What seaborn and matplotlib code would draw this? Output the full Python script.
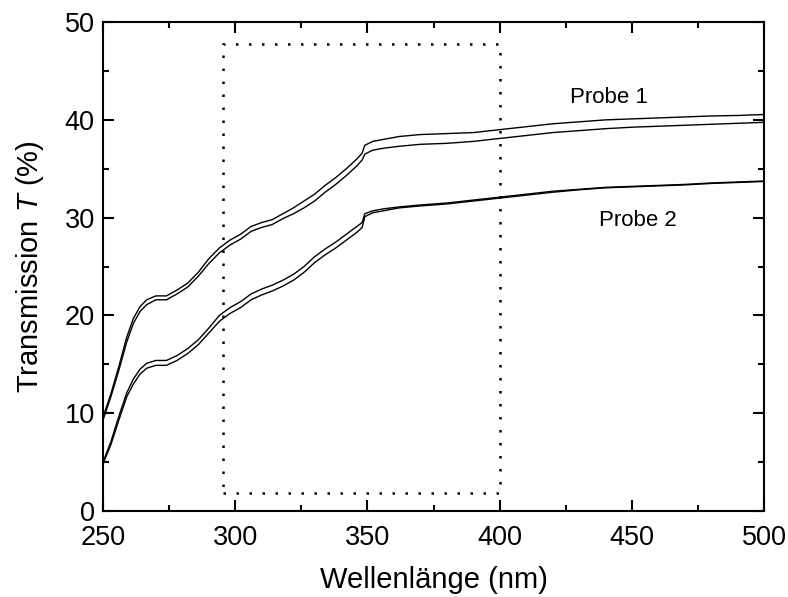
import numpy as np
import pandas as pd
import matplotlib
matplotlib.use("Agg")
import matplotlib.pyplot as plt
import seaborn as sns
from matplotlib.patches import Rectangle

# ---------------- data ----------------
wavelength = [250, 253, 256, 259, 261.5, 264, 266.5, 270, 274, 278, 282, 286, 290, 294,
              298, 302, 306, 310, 314, 318, 322, 326, 330, 334, 338, 342, 346, 348, 349,
              352, 356, 362, 370, 380, 390, 400, 410, 420, 430, 440, 450, 460, 470, 480,
              490, 500]

probe1_a = [9.6, 12.0, 14.8, 17.8, 19.7, 20.9, 21.6, 22.0, 22.0, 22.6, 23.3, 24.4, 25.8, 26.9,
            27.7, 28.3, 29.1, 29.5, 29.8, 30.4, 31.0, 31.7, 32.4, 33.3, 34.1, 35.0, 36.0, 36.6, 37.4,
            37.8, 38.0, 38.3, 38.5, 38.6, 38.7, 39.0, 39.3, 39.6, 39.8, 40.0, 40.1, 40.2, 40.3, 40.4,
            40.45, 40.55]
probe1_b = [9.3, 11.7, 14.4, 17.3, 19.2, 20.4, 21.1, 21.6, 21.6, 22.2, 22.9, 24.0, 25.3, 26.4,
            27.2, 27.8, 28.6, 29.0, 29.3, 29.9, 30.4, 31.0, 31.7, 32.6, 33.4, 34.3, 35.3, 35.9, 36.5,
            36.9, 37.1, 37.3, 37.5, 37.6, 37.8, 38.1, 38.4, 38.7, 38.9, 39.1, 39.25, 39.35, 39.45, 39.55,
            39.65, 39.75]
probe2_a = [5.0, 7.1, 9.7, 12.1, 13.5, 14.5, 15.1, 15.4, 15.4, 15.9, 16.6, 17.5, 18.7, 20.0,
            20.8, 21.4, 22.2, 22.7, 23.1, 23.6, 24.2, 25.0, 26.0, 26.8, 27.5, 28.3, 29.1, 29.5, 30.4,
            30.7, 30.9, 31.1, 31.3, 31.5, 31.8, 32.1, 32.4, 32.7, 32.9, 33.1, 33.2, 33.3, 33.4, 33.55,
            33.65, 33.75]
probe2_b = [4.8, 6.8, 9.3, 11.7, 13.0, 14.0, 14.6, 14.9, 14.9, 15.4, 16.1, 17.0, 18.2, 19.4,
            20.2, 20.8, 21.6, 22.1, 22.5, 23.0, 23.6, 24.4, 25.4, 26.2, 26.9, 27.7, 28.5, 29.0, 30.1,
            30.5, 30.7, 31.0, 31.2, 31.4, 31.7, 32.0, 32.3, 32.6, 32.85, 33.05, 33.15, 33.25, 33.35, 33.5,
            33.6, 33.7]

series_names = ["Probe 1a", "Probe 1b", "Probe 2a", "Probe 2b"]
labels = ["Probe 1", "Probe 2"]
label_pos = [(426.5, 42.3), (437.5, 29.75)]

box_x = [295.5, 400.2]
box_y = [1.8, 47.8]

x_ticks = [250, 300, 350, 400, 450, 500]
y_ticks = [0, 10, 20, 30, 40, 50]

# ---------------- long-format table ----------------
frames = []
for name, vals in zip(series_names, [probe1_a, probe1_b, probe2_a, probe2_b]):
    frames.append(pd.DataFrame({"wl": wavelength, "T": vals, "series": name}))
df = pd.concat(frames, ignore_index=True)

# ---------------- style ----------------
sns.set_style("ticks")
plt.rcParams["font.family"] = ["Liberation Sans", "DejaVu Sans"]
plt.rcParams["mathtext.fontset"] = "custom"
plt.rcParams["mathtext.it"] = "Liberation Sans:italic"
plt.rcParams["mathtext.rm"] = "Liberation Sans"
plt.rcParams["text.color"] = "black"
plt.rcParams["axes.labelcolor"] = "black"

fig = plt.figure(figsize=(7.88, 5.97), dpi=100)
ax = fig.add_axes([0.1307, 0.144, 0.839, 0.819])

sns.lineplot(data=df, x="wl", y="T", hue="series",
             palette=["black"] * 4, linewidth=1.0, legend=False, ax=ax,
             estimator=None, sort=False)

ax.add_patch(Rectangle((box_x[0], box_y[0]), box_x[1] - box_x[0], box_y[1] - box_y[0],
                       fill=False, edgecolor="black", linewidth=1.8,
                       linestyle=(0, (1, 4.2))))

for lab, (tx, ty) in zip(labels, label_pos):
    ax.text(tx, ty, lab, fontsize=16, va="center", ha="left", color="black")

ax.set_xlim(250, 500)
ax.set_ylim(0, 50)
ax.set_xticks(x_ticks)
ax.set_yticks(y_ticks)
ax.set_xticks(np.arange(275, 500, 50), minor=True)
ax.set_yticks(np.arange(5, 50, 10), minor=True)
ax.tick_params(which="both", direction="in", top=True, right=True, width=1.5,
               labelsize=19.5, colors="black", labelcolor="black")
ax.tick_params(axis="x", which="major", pad=10)
ax.tick_params(axis="y", which="major", pad=6)
ax.tick_params(which="major", length=8)
ax.tick_params(which="minor", length=4.5)
for s in ax.spines.values():
    s.set_linewidth(1.5)
    s.set_color("black")

ax.set_xlabel("Wellenlänge (nm)", fontsize=21, labelpad=11, color="black")
ax.set_ylabel("Transmission $T$ (%)", fontsize=21, labelpad=13, color="black")

fig.savefig("out.png", dpi=100)
